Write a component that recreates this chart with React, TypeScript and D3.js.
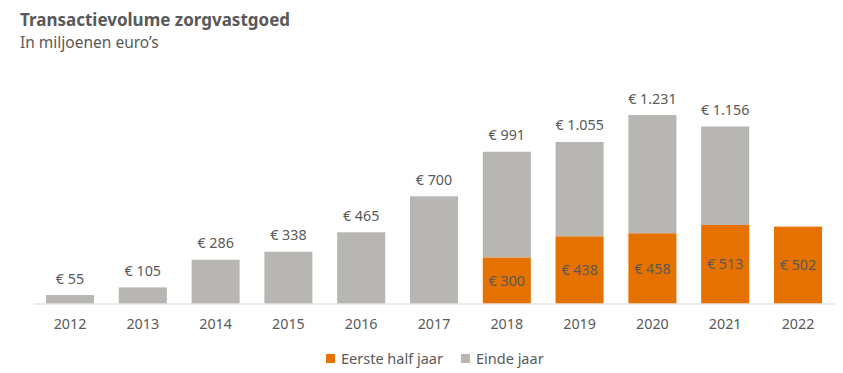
import React from "react";
import * as d3 from "d3";

const years = ["2012","2013","2014","2015","2016","2017","2018","2019","2020","2021","2022"];
const firstHalf: (number | null)[] = [null, null, null, null, null, null, 300, 438, 458, 513, 502];
const yearTotal: (number | null)[] = [55, 105, 286, 338, 465, 700, 991, 1055, 1231, 1156, null];
const legendLabels = ["Eerste half jaar", "Einde jaar"];

const W = 843, H = 373;
const ORANGE = "#E57200";
const GREY = "#B7B6B2";
const TEXT = "#595959";
const FONT = "'Noto Sans', sans-serif";

const nl = d3.formatLocale({ decimal: ",", thousands: ".", grouping: [3], currency: ["€ ", ""] });
const fmt = (v: number) => "€ " + nl.format(",")(v);

export default function App() {
  const x = d3.scaleBand<string>().domain(years).range([33.6, 834.4]).paddingInner(0.34).paddingOuter(0.17);
  const y = d3.scaleLinear().domain([0, 1231]).range([303.5, 115]);
  const bw = x.bandwidth();
  const fs = 14.3;
  return (
    <svg width={W} height={H} style={{ position: "absolute", left: 0, top: 0, background: "#fff" }}>
      <text x={20} y={26} fontFamily={FONT} fontWeight={700} fontSize={17} fill={TEXT}>Transactievolume zorgvastgoed</text>
      <text x={20} y={48} fontFamily={FONT} fontSize={15.5} fill={TEXT}>In miljoenen euro’s</text>
      {years.map((yr, i) => {
        const x0 = x(yr)!;
        const fh = firstHalf[i];
        const tot = yearTotal[i];
        return (
          <g key={yr}>
            {tot != null && (
              <rect x={x0} width={bw} y={y(tot)} height={y(fh ?? 0) - y(tot)} fill={GREY} />
            )}
            {fh != null && (
              <rect x={x0} width={bw} y={y(fh)} height={y(0) - y(fh)} fill={ORANGE} />
            )}
            {tot != null && (
              <text x={x0 + bw / 2} y={y(tot) - 11.5} textAnchor="middle" fontFamily={FONT} fontSize={fs} fill={TEXT}>{fmt(tot)}</text>
            )}
            {fh != null && (
              <text x={x0 + bw / 2} y={(y(fh) + y(0)) / 2} dy="0.36em" textAnchor="middle" fontFamily={FONT} fontSize={fs} fill={TEXT}>{fmt(fh)}</text>
            )}
            <text x={x0 + bw / 2} y={328.5} textAnchor="middle" fontFamily={FONT} fontSize={fs} fill={TEXT}>{yr}</text>
          </g>
        );
      })}
      <line x1={33.6} x2={834.4} y1={y(0) + 0.5} y2={y(0) + 0.5} stroke="#D9D9D9" strokeWidth={1} />
      <g>
        <rect x={326} y={354} width={9} height={9} fill={ORANGE} />
        <text x={341} y={363.5} fontFamily={FONT} fontSize={14.5} fill={TEXT}>{legendLabels[0]}</text>
        <rect x={461} y={354} width={9} height={9} fill={GREY} />
        <text x={476} y={363.5} fontFamily={FONT} fontSize={14.5} fill={TEXT}>{legendLabels[1]}</text>
      </g>
    </svg>
  );
}
